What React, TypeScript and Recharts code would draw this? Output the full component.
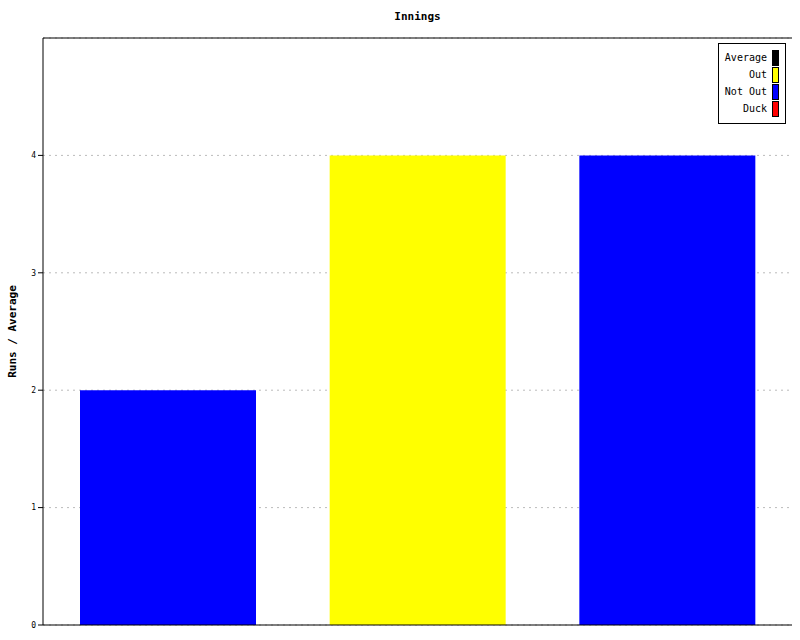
import { BarChart, Bar, Cell, XAxis, YAxis, CartesianGrid, ReferenceLine } from 'recharts';

const innings = ['1', '2', '3'];
const runs = [2, 4, 4];
const status = ['Not Out', 'Out', 'Not Out'];

const legendNames = ['Average', 'Out', 'Not Out', 'Duck'];
const legendColors = ['#000000', '#ffff00', '#0000ff', '#ff0000'];
const yTicks = [0, 1, 2, 3, 4];

const colorFor: Record<string, string> = {
    'Average': '#000000',
    'Out': '#ffff00',
    'Not Out': '#0000ff',
    'Duck': '#ff0000',
};

const data = innings.map((name, i) => ({ name, runs: runs[i], status: status[i] }));

const FONT = '"DejaVu Sans Mono", monospace';

function LegendBox() {
    return (
        <div style={{ position: 'absolute', left: 718, top: 43, width: 66, border: '1px solid #000', background: '#fff', padding: '5px 0 6px 0', fontFamily: FONT, fontSize: 10 }}>
            {legendNames.map((n, i) => (
                <div key={n} style={{ display: 'flex', justifyContent: 'flex-end', alignItems: 'center', height: 17, paddingRight: 6, whiteSpace: 'nowrap' }}>
                    <span style={{ marginRight: 5 }}>{n}</span>
                    <span style={{ display: 'inline-block', width: 5, height: 14, background: legendColors[i], border: '1px solid #000' }} />
                </div>
            ))}
        </div>
    );
}

export default function App() {
    return (
        <div style={{ position: 'absolute', left: 0, top: 0, width: 800, height: 640, background: '#fff' }}>
            <div style={{ position: 'absolute', left: 43, width: 749, top: 10, textAlign: 'center', fontFamily: FONT, fontSize: 11, fontWeight: 'bold' }}>
                Innings
            </div>
            <BarChart width={800} height={640} data={data} margin={{ top: 38, right: 8, bottom: 15, left: 0 }}>
                <CartesianGrid horizontal vertical={false} stroke="#bbbbbb" strokeDasharray="2 4" />
                <XAxis dataKey="name" hide />
                <YAxis
                    domain={[0, 5]}
                    ticks={yTicks}
                    width={43}
                    tickSize={5}
                    axisLine={{ stroke: '#000' }}
                    tickLine={{ stroke: '#000' }}
                    tick={{ fill: '#000', fontSize: 8, fontFamily: FONT }}
                    label={{ value: 'Runs / Average', angle: -90, position: 'insideLeft', offset: 12, style: { fontFamily: FONT, fontSize: 11, fontWeight: 'bold', fill: '#000', textAnchor: 'middle' } }}
                />
                <YAxis yAxisId="frame" orientation="right" width={0} tick={false} tickLine={false} axisLine={{ stroke: '#000' }} />
                <ReferenceLine y={5} stroke="#000" />
                <ReferenceLine y={0} stroke="#000" />
                <Bar dataKey="runs" barSize={176} isAnimationActive={false} legendType="none">
                    {data.map((d, i) => (
                        <Cell key={`c-${i}`} fill={colorFor[d.status]} />
                    ))}
                </Bar>
            </BarChart>
            <LegendBox />
        </div>
    );
}
